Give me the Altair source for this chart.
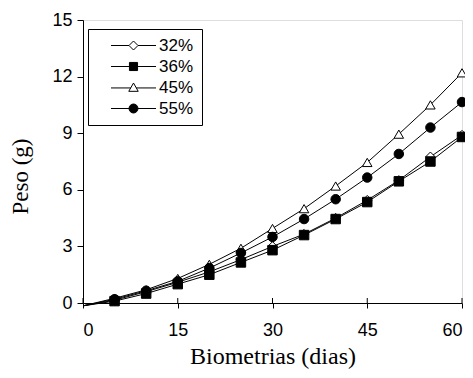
import altair as alt
import pandas as pd

dias = [0, 5, 10, 15, 20, 25, 30, 35, 40, 45, 50, 55, 60]
p32 = [-0.15, 0.15, 0.60, 1.10, 1.65, 2.30, 3.00, 3.65, 4.50, 5.45, 6.50, 7.75, 8.90]
p36 = [-0.15, 0.10, 0.50, 1.00, 1.50, 2.15, 2.80, 3.60, 4.45, 5.35, 6.45, 7.50, 8.80]
p45 = [-0.15, 0.25, 0.70, 1.30, 2.05, 2.90, 3.95, 5.00, 6.20, 7.45, 8.95, 10.50, 12.20]
p55 = [-0.15, 0.20, 0.65, 1.15, 1.85, 2.65, 3.50, 4.45, 5.50, 6.65, 7.90, 9.30, 10.65]

series = ["32%", "36%", "45%", "55%"]
shapes = ["diamond", "square", "triangle-up", "circle"]
fills = ["white", "black", "white", "black"]
legend_paths = [
    "M-5,0H-1M1,0H5M0,-1L1,0L0,1L-1,0Z",
    "M-5,0H-0.9M0.9,0H5M-0.9,-0.9H0.9V0.9H-0.9Z",
    "M-5,0.1H-0.6M0.6,0.1H5M0,-1L1.05,0.85L-1.05,0.85Z",
    "M-5,0H-1M1,0H5M-1,0A1,1 0 1,0 1,0A1,1 0 1,0 -1,0Z",
]
xticks = [0, 15, 30, 45, 60]
yticks = [0, 3, 6, 9, 12, 15]

rows = []
for s, vals in zip(series, [p32, p36, p45, p55]):
    for d, v in zip(dias, vals):
        rows.append({"dia": d, "peso": v, "serie": s})
df = pd.DataFrame(rows)
tick_df = pd.DataFrame({"t": xticks})

W, H = 379, 283

x = alt.X(
    "dia:Q",
    scale=alt.Scale(domain=[0, 60], nice=False, zero=False),
    axis=alt.Axis(
        values=xticks, tickSize=5, labelPadding=13, grid=False,
        labelFont="Liberation Sans", labelFontSize=18, labelColor="black",
        domainColor="black", tickColor="black",
        title="Biometrias (dias)", titleFont="Liberation Serif", titleFontSize=24,
        titleFontWeight="normal", titleColor="black", titlePadding=5,
    ),
)
y = alt.Y(
    "peso:Q",
    scale=alt.Scale(domain=[0, 15], nice=False),
    axis=alt.Axis(
        values=yticks, tickSize=6, labelPadding=5, grid=False,
        labelFont="Liberation Sans", labelFontSize=18, labelColor="black",
        domainColor="black", tickColor="black",
        title="Peso (g)", titleFont="Liberation Serif", titleFontSize=23,
        titleFontWeight="normal", titleColor="black", titleX=-51, titleY=156,
    ),
)

base = alt.Chart(df)

lines = base.mark_line(color="black", strokeWidth=1).encode(x=x, y=y, detail="serie:N")

point_layers = []
for s, shp, f in zip(series, shapes, fills):
    point_layers.append(
        base.transform_filter(f"datum.dia > 0 && datum.serie == '{s}'").mark_point(
            shape=shp, size=90, fill=f, stroke="black", strokeWidth=1, opacity=1, filled=True
        ).encode(x=x, y=y)
    )

leg = alt.Legend(
    orient="none", legendX=5, legendY=9, title=None, padding=8,
    strokeColor="black", fillColor="white",
    symbolSize=81, symbolStrokeWidth=1, symbolStrokeColor="black",
    symbolOffset=29, labelOffset=17, rowPadding=3,
    labelFont="Liberation Sans", labelFontSize=17, labelColor="black",
)
legend_layer = base.transform_filter("false").mark_point(
    strokeWidth=1, opacity=1
).encode(
    x=x, y=y,
    shape=alt.Shape("serie:N", scale=alt.Scale(domain=series, range=legend_paths), legend=leg),
    fill=alt.Fill("serie:N", scale=alt.Scale(domain=series, range=fills), legend=leg),
    stroke=alt.Stroke("serie:N", scale=alt.Scale(domain=series, range=["black"] * 4), legend=leg),
)

up_ticks = alt.Chart(tick_df).mark_rule(color="black", strokeWidth=1).encode(
    x=alt.X("t:Q"), y=alt.value(H - 5), y2=alt.value(H)
)

chart = alt.layer(lines, *point_layers, up_ticks, legend_layer).properties(
    width=W, height=H,
    autosize=alt.AutoSizeParams(type="none"),
    padding={"left": 75, "top": 12, "right": 3, "bottom": 75},
).configure_view(stroke=None).configure(background="white")

chart.save("out.html", embed_options={"renderer": "svg", "actions": False})
